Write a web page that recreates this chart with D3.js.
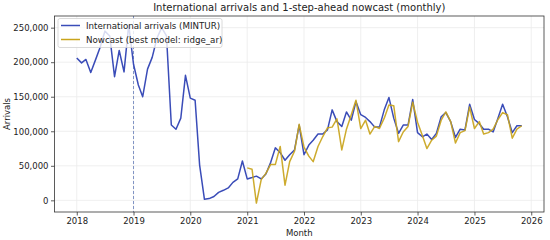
<!DOCTYPE html>
<html><head><meta charset="utf-8">
<script src="https://cdn.jsdelivr.net/npm/d3@7"></script>
<style>body{margin:0;background:#fff}svg{display:block}text{font-family:"DejaVu Sans",sans-serif;fill:#222}</style>
</head><body><svg id="c" width="550" height="240"></svg>
<script>
const startYear = 2018, startMonth = 0;
const arrivals = [206,199,204,185,203,222,245,238,179,217,186,254,
197,167,150,190,207,235,250,238,109,103,119,181,
148,145,51,1.5,2.5,5.5,11.5,14.5,18,26,31,57,
31,33,35,31,38,55,76,69,58,66,73,109,
66,80,87,96,96,102,131,114,107,128,116,143,
124,120,114,106,106,131,149,119,97,109,109,146,
98,92,96,88,97,121,127,114,91,103,102,139,
117,111,103,103,99,119,139,121,98,108,108].map(v=>v*1000);
const nowcastStart = 36;
const nowcast = [47,45,-4,30,39,52,52,78,22,56,71,110,
77,64,56,78,92,105,106,118,73,103,124,145,
104,116,96,107,104,119,138,137,85,99,107,142,
113,94,75,87,93,116,128,114,83,98,101,135,
104,114,96,98,103,117,127,124,90,103,108].map(v=>v*1000);
const yTicks = [0,50000,100000,150000,200000,250000];
const xTickYears = [2018,2019,2020,2021,2022,2023,2024,2025,2026];
const splitDate = new Date(2019,0,1);
const titleText = "International arrivals and 1-step-ahead nowcast (monthly)";
const labels = ["International arrivals (MINTUR)","Nowcast (best model: ridge_ar)"];

const dateOf = i => new Date(startYear, startMonth + i, 1);
const actual = arrivals.map((v,i)=>({d:dateOf(i),v}));
const pred = nowcast.map((v,i)=>({d:dateOf(nowcastStart+i),v}));

const svg = d3.select("#c");
const L=54.5,R=544,T=16,B=212;
const t0 = actual[0].d.getTime(), t1 = actual[actual.length-1].d.getTime();
const pad = (t1-t0)*0.05;
const x = d3.scaleTime().domain([new Date(t0-pad), new Date(t1+pad)]).range([L,R]);
const all = arrivals.concat(nowcast);
const ymin = d3.min(all), ymax = d3.max(all), yp=(ymax-ymin)*0.05;
const y = d3.scaleLinear().domain([ymin-yp, ymax+yp]).range([B,T]);
const COL1="#3a4cb8", COL2="#c9a41c";

const g = svg.append("g");
g.selectAll(".gx").data(xTickYears).join("line")
 .attr("x1",d=>x(new Date(d,0,1))).attr("x2",d=>x(new Date(d,0,1)))
 .attr("y1",T).attr("y2",B).attr("stroke","#ebebeb").attr("stroke-width",0.8);
g.selectAll(".gy").data(yTicks).join("line")
 .attr("x1",L).attr("x2",R).attr("y1",d=>y(d)).attr("y2",d=>y(d))
 .attr("stroke","#ebebeb").attr("stroke-width",0.8);

svg.append("line").attr("x1",x(splitDate)).attr("x2",x(splitDate)).attr("y1",T).attr("y2",B)
 .attr("stroke","#7f93c4").attr("stroke-width",1).attr("stroke-dasharray","3,2");

const line = d3.line().x(d=>x(d.d)).y(d=>y(d.v));
svg.append("path").datum(actual).attr("d",line).attr("fill","none").attr("stroke",COL1).attr("stroke-width",1.5).attr("stroke-linejoin","round");
svg.append("path").datum(pred).attr("d",line).attr("fill","none").attr("stroke",COL2).attr("stroke-width",1.5).attr("stroke-opacity",0.92).attr("stroke-linejoin","round");

const xa = svg.append("g").attr("transform",`translate(0,${B})`)
 .call(d3.axisBottom(x).tickValues(xTickYears.map(d=>new Date(d,0,1))).tickFormat(d3.timeFormat("%Y")).tickSize(3.5).tickPadding(2.5));
const ya = svg.append("g").attr("transform",`translate(${L},0)`)
 .call(d3.axisLeft(y).tickValues(yTicks).tickFormat(d3.format(",")).tickSize(3.5).tickPadding(2.5));
[xa,ya].forEach(a=>{a.select(".domain").remove();a.selectAll("line").attr("stroke","#333").attr("stroke-width",0.8);
 a.selectAll("text").attr("font-size","8.5px").attr("fill","#222").style("font-family","DejaVu Sans");});
svg.append("rect").attr("x",L).attr("y",T).attr("width",R-L).attr("height",B-T).attr("fill","none").attr("stroke","#333").attr("stroke-width",0.8);

svg.append("text").attr("x",(L+R)/2).attr("y",11).attr("text-anchor","middle").attr("font-size","10px").text(titleText);
svg.append("text").attr("x",(L+R)/2).attr("y",236).attr("text-anchor","middle").attr("font-size","8.5px").text("Month");
svg.append("text").attr("transform",`translate(10,${(T+B)/2}) rotate(-90)`).attr("text-anchor","middle").attr("font-size","8.5px").text("Arrivals");

const lg = svg.append("g");
lg.append("rect").attr("x",58).attr("y",18.5).attr("width",164).attr("height",29).attr("rx",2)
 .attr("fill","#fff").attr("fill-opacity",0.8).attr("stroke","#d0d0d0").attr("stroke-width",0.8);
[COL1,COL2].forEach((c,i)=>{
  const yy = 25.5 + i*14;
  lg.append("line").attr("x1",61).attr("x2",80).attr("y1",yy).attr("y2",yy).attr("stroke",c).attr("stroke-width",1.5);
  lg.append("text").attr("x",86).attr("y",yy+3).attr("font-size","8.7px").text(labels[i]);
});
</script></body></html>
